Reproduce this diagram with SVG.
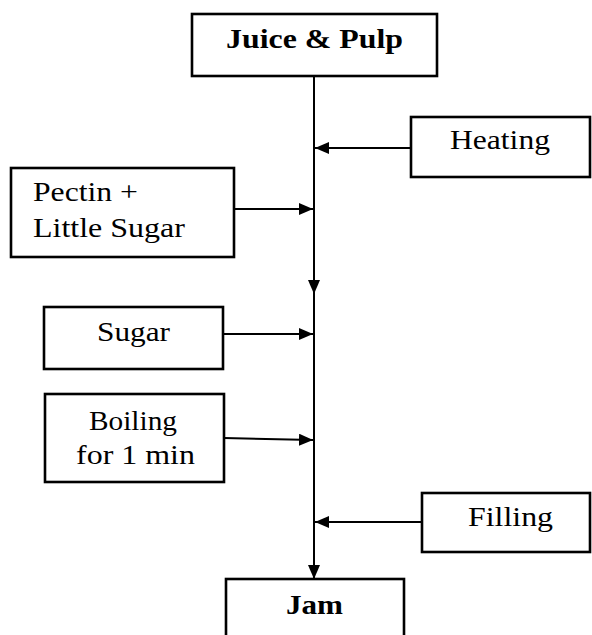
<svg xmlns="http://www.w3.org/2000/svg" width="592" height="635" viewBox="0 0 592 635">
<style>
.box{fill:#fff;stroke:#000;stroke-width:2.6}
.t{font-family:"Liberation Serif","Times New Roman",serif;font-size:27px;fill:#000}
.b{font-weight:bold}
.c{stroke:#000;stroke-width:2;fill:none}
</style>
<defs>
<marker id="ah" markerUnits="userSpaceOnUse" markerWidth="14" markerHeight="12" refX="14" refY="6" orient="auto">
<path d="M0,0 L14,6 L0,12 Z" fill="#000"/>
</marker>
</defs>
<rect width="592" height="635" fill="#fff"/>
<g id="connectors">
<line class="c" x1="314" y1="76" x2="314" y2="294" marker-end="url(#ah)"/>
<line class="c" x1="314" y1="290" x2="314" y2="579" marker-end="url(#ah)"/>
<line class="c" x1="411" y1="148" x2="315" y2="148" marker-end="url(#ah)"/>
<line class="c" x1="234" y1="209" x2="313" y2="209" marker-end="url(#ah)"/>
<line class="c" x1="223" y1="334" x2="313" y2="334" marker-end="url(#ah)"/>
<line class="c" x1="224" y1="438" x2="313" y2="440" marker-end="url(#ah)"/>
<line class="c" x1="422" y1="522" x2="315" y2="522" marker-end="url(#ah)"/>
</g>
<g id="juice">
<rect class="box" x="192" y="14" width="245" height="62" stroke-width="3"/>
<text class="t b" x="226" y="48" textLength="177" lengthAdjust="spacingAndGlyphs">Juice &amp; Pulp</text>
</g>
<g id="heating">
<rect class="box" x="411" y="117" width="179" height="60"/>
<text class="t" x="450" y="149" textLength="100" lengthAdjust="spacingAndGlyphs">Heating</text>
</g>
<g id="pectin">
<rect class="box" x="11" y="168" width="223" height="89"/>
<text class="t" x="33" y="201" textLength="105" lengthAdjust="spacingAndGlyphs">Pectin +</text>
<text class="t" x="33" y="237" textLength="152" lengthAdjust="spacingAndGlyphs">Little Sugar</text>
</g>
<g id="sugar">
<rect class="box" x="44" y="307" width="179" height="62"/>
<text class="t" x="97" y="341" textLength="73" lengthAdjust="spacingAndGlyphs">Sugar</text>
</g>
<g id="boiling">
<rect class="box" x="45" y="394" width="179" height="88"/>
<text class="t" x="89" y="430" textLength="88" lengthAdjust="spacingAndGlyphs">Boiling</text>
<text class="t" x="76" y="464" textLength="119" lengthAdjust="spacingAndGlyphs">for 1 min</text>
</g>
<g id="filling">
<rect class="box" x="422" y="493" width="168" height="59"/>
<text class="t" x="468" y="526" textLength="85" lengthAdjust="spacingAndGlyphs">Filling</text>
</g>
<g id="jam">
<rect class="box" x="226" y="579" width="178" height="70"/>
<text class="t b" x="286" y="614" textLength="57" lengthAdjust="spacingAndGlyphs">Jam</text>
</g>
</svg>
